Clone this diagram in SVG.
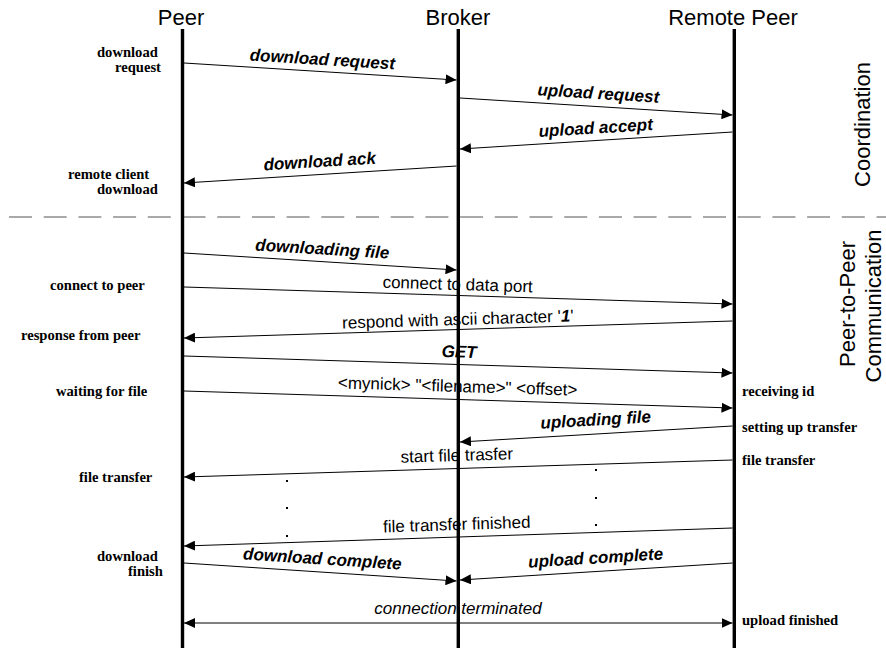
<svg xmlns="http://www.w3.org/2000/svg" width="886" height="648" viewBox="0 0 886 648">
  <style>
    .head { font-family: "Liberation Sans", Arial, sans-serif; font-size: 22px; fill: #000; text-anchor: middle; }
    .phase { font-family: "Liberation Sans", Arial, sans-serif; font-size: 22px; fill: #000; text-anchor: middle; }
    .life { stroke: #000; stroke-width: 3.4; fill: none; }
    .msg { stroke: #000; stroke-width: 1; fill: none; marker-end: url(#arrow); }
    .lbl { font-family: "Liberation Sans", Arial, sans-serif; font-size: 17px; fill: #000; text-anchor: middle; }
    .bi { font-weight: bold; font-style: italic; }
    .it { font-style: italic; }
    .note { font-family: "Liberation Serif", "Times New Roman", serif; font-size: 14.6px; font-weight: bold; fill: #000; }
    .sep { stroke: #555; stroke-width: 1.2; stroke-dasharray: 23 11.7; fill: none; }
  </style>
  <defs>
    <marker id="arrow" viewBox="0 0 11 10" refX="11" refY="5" markerWidth="11" markerHeight="10" markerUnits="userSpaceOnUse" orient="auto-start-reverse">
      <path d="M0,0 L11,5 L0,10 Z" fill="#000"/>
    </marker>
  </defs>
  <rect width="886" height="648" fill="#fff"/>

  <!-- phase separator -->
  <line class="sep" x1="9" y1="217" x2="886" y2="217"/>

  <!-- phase titles -->
  <g id="phases">
    <text class="phase" transform="translate(870,124.5) rotate(-90)">Coordination</text>
    <text class="phase" transform="translate(855,304) rotate(-90)">Peer-to-Peer</text>
    <text class="phase" transform="translate(881,306) rotate(-90)">Communication</text>
  </g>

  <!-- participants -->
  <g id="peer">
    <text class="head" x="181" y="25">Peer</text>
    <line class="life" x1="182.5" y1="29" x2="182.5" y2="648"/>
  </g>
  <g id="broker">
    <text class="head" x="458" y="25">Broker</text>
    <line class="life" x1="458.3" y1="29" x2="458.3" y2="648"/>
  </g>
  <g id="remote-peer">
    <text class="head" x="733" y="25">Remote Peer</text>
    <line class="life" x1="734.3" y1="29" x2="734.3" y2="648"/>
  </g>

  <!-- messages -->
  <g id="connectors">
    <line class="msg" x1="184" y1="63" x2="456.5" y2="80"/>
    <text class="lbl bi" x="322" y="65" transform="rotate(3.52 322 65)">download request</text>

    <line class="msg" x1="460" y1="98" x2="732.5" y2="115"/>
    <text class="lbl bi" x="598" y="99" transform="rotate(3.52 598 99)">upload request</text>

    <line class="msg" x1="732.5" y1="132" x2="460" y2="149"/>
    <text class="lbl bi" x="596" y="133.5" transform="rotate(-3.52 596 133.5)">upload accept</text>

    <line class="msg" x1="456.5" y1="166" x2="184" y2="183"/>
    <text class="lbl bi" x="320" y="167" transform="rotate(-3.52 320 167)">download ack</text>

    <line class="msg" x1="184" y1="253" x2="456.5" y2="270"/>
    <text class="lbl bi" x="322" y="254.5" transform="rotate(3.52 322 254.5)">downloading file</text>

    <line class="msg" x1="184" y1="287" x2="732.5" y2="304"/>
    <text class="lbl" x="457.5" y="290" transform="rotate(1.76 457.5 290)">connect to data port</text>

    <line class="msg" x1="732.5" y1="321" x2="184" y2="338"/>
    <text class="lbl" x="458" y="325" transform="rotate(-1.76 458 325)">respond with ascii character '<tspan class="bi">1</tspan>'</text>

    <line class="msg" x1="184" y1="356" x2="732.5" y2="373"/>
    <text class="lbl bi" x="459" y="357.5" transform="rotate(1.76 459 357.5)">GET</text>

    <line class="msg" x1="184" y1="391" x2="732.5" y2="408"/>
    <text class="lbl" x="457.5" y="392" transform="rotate(1.76 457.5 392)">&lt;mynick&gt; "&lt;filename&gt;" &lt;offset&gt;</text>

    <line class="msg" x1="732.5" y1="426" x2="460" y2="442"/>
    <text class="lbl bi" x="596" y="425.5" transform="rotate(-3.32 596 425.5)">uploading file</text>

    <line class="msg" x1="732.5" y1="460" x2="184" y2="477"/>
    <text class="lbl" x="457" y="461" transform="rotate(-1.76 457 461)">start file trasfer</text>

    <line class="msg" x1="732.5" y1="528" x2="184" y2="546"/>
    <text class="lbl" x="457" y="530" transform="rotate(-1.87 457 530)">file transfer finished</text>

    <line class="msg" x1="184" y1="563" x2="456.5" y2="581"/>
    <text class="lbl bi" x="322" y="564.5" transform="rotate(3.73 322 564.5)">download complete</text>

    <line class="msg" x1="732.5" y1="563" x2="460" y2="580"/>
    <text class="lbl bi" x="596" y="563.5" transform="rotate(-3.52 596 563.5)">upload complete</text>

    <line class="msg" x1="184" y1="623" x2="732.5" y2="623" marker-start="url(#arrow)"/>
    <text class="lbl it" x="458" y="614">connection terminated</text>

    <!-- continuation dots -->
    <g fill="#000">
      <rect x="286" y="480" width="2" height="2"/>
      <rect x="286" y="507" width="2" height="2"/>
      <rect x="286" y="535" width="2" height="2"/>
      <rect x="595" y="469" width="2" height="2"/>
      <rect x="595" y="497" width="2" height="2"/>
      <rect x="595" y="524" width="2" height="2"/>
    </g>
  </g>

  <!-- state notes, peer side -->
  <g id="peer-notes" class="note">
    <text x="97" y="56.5">download</text>
    <text x="115" y="71.5">request</text>
    <text x="68" y="178.5">remote client</text>
    <text x="97" y="193.5">download</text>
    <text x="50" y="290">connect to peer</text>
    <text x="21" y="340">response from peer</text>
    <text x="56" y="396">waiting for file</text>
    <text x="79" y="482">file transfer</text>
    <text x="97" y="560.5">download</text>
    <text x="128" y="576">finish</text>
  </g>

  <!-- state notes, remote side -->
  <g id="remote-notes" class="note">
    <text x="742" y="396">receiving id</text>
    <text x="742" y="432">setting up transfer</text>
    <text x="742" y="465">file transfer</text>
    <text x="742" y="625">upload finished</text>
  </g>
</svg>
